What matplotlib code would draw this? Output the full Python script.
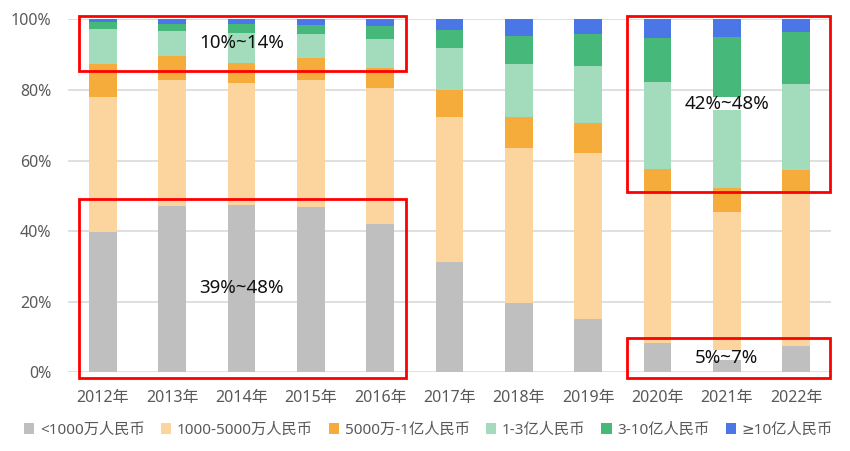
import matplotlib
matplotlib.use('Agg')
import matplotlib.pyplot as plt
from matplotlib.patches import Rectangle
import numpy as np

plt.rcParams['font.family'] = ['Noto Sans', 'DejaVu Sans', 'Noto Sans CJK SC']

# ---------------- data (percent of total) ----------------
years = ['2012年', '2013年', '2014年', '2015年', '2016年', '2017年',
         '2018年', '2019年', '2020年', '2021年', '2022年']
lt1000   = [39.7, 47.2, 47.5, 46.9, 42.1, 31.2, 19.7, 15.2, 8.3, 5.5, 7.5]
s1000_5000 = [38.4, 35.6, 34.5, 35.9, 38.4, 41.1, 43.8, 46.9, 42.7, 39.9, 43.5]
s5000_1y = [9.4, 6.9, 5.7, 6.3, 5.7, 7.7, 8.8, 8.5, 6.6, 6.8, 6.4]
s1_3y    = [9.7, 7.1, 8.4, 6.7, 8.2, 11.8, 15.1, 16.2, 24.6, 24.8, 24.3]
s3_10y   = [2.1, 1.9, 2.6, 2.6, 3.6, 5.3, 7.8, 9.1, 12.5, 17.9, 14.7]
ge10y    = [0.7, 1.3, 1.3, 1.6, 2.0, 2.9, 4.8, 4.1, 5.3, 5.1, 3.6]

series = [lt1000, s1000_5000, s5000_1y, s1_3y, s3_10y, ge10y]
labels = ['<1000万人民币', '1000-5000万人民币', '5000万-1亿人民币',
          '1-3亿人民币', '3-10亿人民币', '≥10亿人民币']
colors = ['#bfbfbf', '#fbd59d', '#f6ac3a', '#a3dcbd', '#46b87a', '#4a76e6']

# ---------------- plot ----------------
fig = plt.figure(figsize=(8.5, 4.51), dpi=100)
ax = fig.add_axes([0.08, 0.1745, 0.8976, 0.7825])

x = np.arange(len(years))
bottom = np.zeros(len(years))
for vals, lab, col in zip(series, labels, colors):
    ax.bar(x, vals, 0.4, bottom=bottom, color=col, label=lab, zorder=2)
    bottom += np.array(vals)

ax.set_xlim(-0.5, len(years) - 0.5)
ax.set_ylim(0, 100)
ax.set_yticks(range(0, 101, 20))
ax.set_yticklabels([f'{v}%' for v in range(0, 101, 20)])
ax.set_xticks(x)
ax.set_xticklabels(years)
ax.grid(axis='y', color='#d9d9d9', linewidth=1.2, zorder=0)
for s in ax.spines.values():
    s.set_visible(False)
ax.tick_params(axis='y', length=0, pad=12, labelsize=11.5, colors='#595959')
ax.tick_params(axis='x', length=0, pad=13, labelsize=11.5, colors='#595959')

# red highlight boxes
for (x0, x1, y0, y1) in [(-0.34, 4.37, 85.4, 101.0), (-0.34, 4.37, -1.7, 49.0),
                         (7.56, 10.49, 51.1, 101.0), (7.56, 10.49, -1.7, 9.6)]:
    ax.add_patch(Rectangle((x0, y0), x1 - x0, y1 - y0, fill=False,
                           edgecolor='#ff0000', linewidth=2.0, clip_on=False, zorder=5))

# white patches behind some labels
ax.add_patch(Rectangle((8.62, 74.3), 0.78, 3.6, facecolor='white', edgecolor='none', zorder=3))
ax.add_patch(Rectangle((8.62, 3.4), 0.78, 2.9, facecolor='white', edgecolor='none', zorder=3))

for tx, ty, t in [(2.0, 93.2, '10%~14%'), (2.0, 24.0, '39%~48%'),
                  (9.0, 76.0, '42%~48%'), (9.0, 4.1, '5%~7%')]:
    ax.text(tx, ty, t, ha='center', va='center', fontsize=13.5, color='#111111', zorder=6)

fig.legend(loc='center', bbox_to_anchor=(0.504, 1 - 430 / 451), ncol=6, frameon=False,
           fontsize=11, handlelength=0.7, handleheight=0.7, handletextpad=0.35,
           columnspacing=1.05, labelcolor='#595959')

fig.savefig('out.png', dpi=100)
